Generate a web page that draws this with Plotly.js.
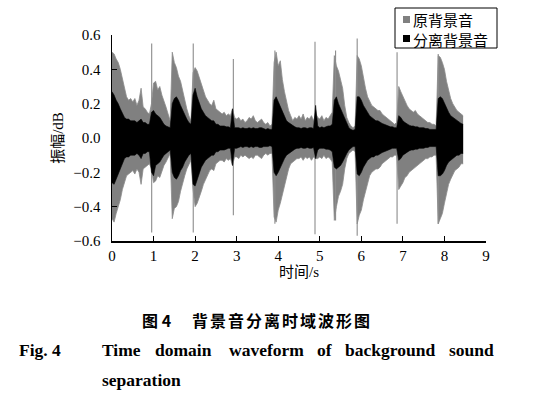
<!DOCTYPE html>
<html><head><meta charset="utf-8">
<script src="https://cdn.plot.ly/plotly-3.0.1.min.js"></script>
<style>html,body{margin:0;padding:0;background:#fff}#chart{width:555px;height:395px}</style>
</head><body><div id="chart"></div>
<script>
// ---- data ----
const sampleStart = 0;      // s
const sampleStep = 0.05;    // s, envelope sampling interval
const seriesNames = ['原背景音', '分离背景音'];

// original background sound: upper / lower envelope
const originalUpper = [
  0.50,0.49,0.46,0.44,0.40,0.34,0.28,0.24,0.22,0.23,
  0.21,0.23,0.19,0.22,0.29,0.18,0.17,0.15,0.14,0.20,
  0.32,0.33,0.28,0.30,0.25,0.22,0.18,0.14,0.10,0.50,
  0.44,0.41,0.36,0.33,0.27,0.22,0.17,0.13,0.10,0.38,
  0.41,0.39,0.35,0.31,0.27,0.24,0.22,0.20,0.19,0.22,
  0.17,0.16,0.15,0.14,0.15,0.13,0.14,0.13,0.17,0.12,
  0.11,0.12,0.10,0.11,0.09,0.10,0.12,0.11,0.13,0.10,
  0.09,0.10,0.11,0.09,0.08,0.09,0.07,0.08,0.44,0.50,
  0.42,0.45,0.34,0.27,0.21,0.16,0.13,0.10,0.12,0.11,
  0.13,0.11,0.14,0.10,0.12,0.11,0.13,0.10,0.14,0.12,
  0.11,0.13,0.10,0.12,0.11,0.13,0.15,0.48,0.42,0.39,
  0.33,0.29,0.19,0.12,0.09,0.07,0.06,0.07,0.48,0.46,
  0.42,0.35,0.29,0.24,0.21,0.19,0.18,0.17,0.16,0.16,
  0.14,0.13,0.12,0.11,0.10,0.09,0.08,0.09,0.30,0.27,
  0.24,0.21,0.19,0.17,0.16,0.15,0.16,0.14,0.13,0.12,
  0.11,0.10,0.09,0.09,0.08,0.08,0.07,0.48,0.47,0.44,
  0.40,0.33,0.28,0.23,0.20,0.18,0.16,0.15,0.14,0.13
];
const originalLower = [
  -0.47,-0.49,-0.44,-0.40,-0.36,-0.30,-0.26,-0.22,-0.21,-0.20,
  -0.19,-0.21,-0.18,-0.20,-0.27,-0.18,-0.17,-0.16,-0.15,-0.18,
  -0.26,-0.25,-0.22,-0.23,-0.19,-0.16,-0.14,-0.11,-0.09,-0.47,
  -0.41,-0.40,-0.37,-0.31,-0.26,-0.22,-0.18,-0.15,-0.13,-0.30,
  -0.40,-0.38,-0.35,-0.31,-0.27,-0.24,-0.21,-0.19,-0.18,-0.19,
  -0.15,-0.14,-0.13,-0.13,-0.14,-0.12,-0.13,-0.12,-0.16,-0.11,
  -0.11,-0.12,-0.10,-0.11,-0.10,-0.11,-0.12,-0.11,-0.12,-0.10,
  -0.10,-0.11,-0.12,-0.10,-0.09,-0.10,-0.09,-0.09,-0.46,-0.49,
  -0.42,-0.38,-0.33,-0.28,-0.22,-0.18,-0.15,-0.14,-0.13,-0.12,
  -0.12,-0.11,-0.13,-0.11,-0.12,-0.11,-0.13,-0.11,-0.12,-0.12,
  -0.11,-0.12,-0.10,-0.12,-0.11,-0.12,-0.14,-0.48,-0.40,-0.34,
  -0.31,-0.27,-0.18,-0.12,-0.09,-0.08,-0.07,-0.08,-0.50,-0.45,
  -0.42,-0.36,-0.31,-0.26,-0.22,-0.20,-0.19,-0.18,-0.18,-0.17,
  -0.15,-0.14,-0.13,-0.12,-0.11,-0.11,-0.10,-0.10,-0.30,-0.28,
  -0.26,-0.23,-0.22,-0.20,-0.19,-0.18,-0.17,-0.16,-0.15,-0.14,
  -0.13,-0.12,-0.12,-0.11,-0.11,-0.10,-0.10,-0.50,-0.47,-0.44,
  -0.38,-0.32,-0.27,-0.24,-0.21,-0.19,-0.18,-0.17,-0.15,-0.15
];
// isolated transient spikes of the original signal
const spikeTimes  = [0.955, 1.955, 2.92, 3.92, 4.885, 5.38, 5.90, 6.86, 7.85];
const spikeTop    = [0.55, 0.55, 0.46, 0.51, 0.56, 0.51, 0.58, 0.50, 0.49];
const spikeBottom = [-0.55, -0.55, -0.45, -0.50, -0.56, -0.48, -0.57, -0.50, -0.50];

// separated background sound: upper / lower envelope
const separatedUpper = [
  0.27,0.25,0.22,0.20,0.17,0.14,0.12,0.11,0.11,0.10,
  0.10,0.10,0.09,0.10,0.11,0.09,0.09,0.08,0.08,0.15,
  0.16,0.14,0.13,0.12,0.10,0.08,0.07,0.065,0.06,0.20,
  0.23,0.24,0.22,0.19,0.16,0.13,0.11,0.09,0.08,0.25,
  0.29,0.24,0.20,0.17,0.15,0.13,0.12,0.11,0.10,0.10,
  0.08,0.08,0.07,0.07,0.07,0.065,0.065,0.06,0.17,0.06,
  0.06,0.06,0.055,0.06,0.055,0.055,0.06,0.055,0.06,0.055,
  0.055,0.06,0.06,0.055,0.05,0.055,0.05,0.05,0.22,0.24,
  0.21,0.18,0.15,0.12,0.10,0.09,0.08,0.07,0.065,0.06,
  0.06,0.055,0.06,0.06,0.055,0.06,0.06,0.055,0.19,0.07,
  0.06,0.065,0.06,0.065,0.07,0.07,0.08,0.22,0.24,0.20,
  0.17,0.14,0.11,0.08,0.06,0.05,0.045,0.05,0.24,0.24,
  0.22,0.19,0.17,0.15,0.13,0.12,0.11,0.10,0.10,0.09,
  0.085,0.08,0.075,0.07,0.065,0.065,0.06,0.06,0.13,0.12,
  0.10,0.09,0.08,0.075,0.07,0.07,0.065,0.065,0.06,0.06,
  0.06,0.055,0.055,0.05,0.05,0.05,0.05,0.23,0.24,0.23,
  0.20,0.17,0.15,0.13,0.12,0.11,0.10,0.09,0.085,0.08
];
const separatedLower = [
  -0.26,-0.27,-0.24,-0.21,-0.17,-0.14,-0.12,-0.11,-0.11,-0.10,
  -0.10,-0.10,-0.09,-0.10,-0.12,-0.09,-0.09,-0.08,-0.08,-0.20,
  -0.22,-0.16,-0.15,-0.14,-0.12,-0.10,-0.09,-0.08,-0.07,-0.20,
  -0.23,-0.24,-0.22,-0.19,-0.17,-0.14,-0.12,-0.10,-0.09,-0.27,
  -0.28,-0.24,-0.20,-0.17,-0.15,-0.13,-0.12,-0.11,-0.10,-0.10,
  -0.08,-0.08,-0.07,-0.07,-0.07,-0.065,-0.06,-0.06,-0.16,-0.06,
  -0.06,-0.055,-0.05,-0.055,-0.05,-0.05,-0.055,-0.05,-0.055,-0.05,
  -0.05,-0.055,-0.055,-0.05,-0.05,-0.05,-0.045,-0.05,-0.20,-0.22,
  -0.20,-0.17,-0.14,-0.12,-0.10,-0.09,-0.08,-0.07,-0.065,-0.06,
  -0.06,-0.055,-0.06,-0.06,-0.055,-0.06,-0.06,-0.055,-0.12,-0.07,
  -0.06,-0.06,-0.06,-0.065,-0.065,-0.07,-0.08,-0.17,-0.18,-0.17,
  -0.16,-0.14,-0.11,-0.09,-0.07,-0.06,-0.05,-0.05,-0.21,-0.22,
  -0.20,-0.17,-0.15,-0.13,-0.12,-0.11,-0.11,-0.10,-0.10,-0.09,
  -0.085,-0.08,-0.075,-0.07,-0.065,-0.06,-0.06,-0.06,-0.13,-0.12,
  -0.10,-0.09,-0.08,-0.075,-0.07,-0.07,-0.065,-0.065,-0.06,-0.06,
  -0.06,-0.055,-0.055,-0.05,-0.05,-0.05,-0.05,-0.22,-0.22,-0.21,
  -0.19,-0.16,-0.14,-0.13,-0.12,-0.11,-0.10,-0.10,-0.09,-0.09
];

const xTickVals = [0,1,2,3,4,5,6,7,8,9];
const yTickVals = [-0.6,-0.4,-0.2,0.0,0.2,0.4,0.6];
const xTitle = '时间/s';
const yTitle = '振幅/dB';
const captionCn = ['图', '4', '背景音分离时域波形图'];
const captionEnLabel = 'Fig. 4';
const captionEnWords = ['Time','domain','waveform','of','background','sound'];
const captionEnLine2 = 'separation';

// ---- styles / geometry ----
const GRAY = '#808080', BLACK = '#000000';
const SERIF = '"Liberation Serif", "Times New Roman", "Noto Sans CJK SC", serif';
const CJK = '"Noto Sans CJK SC", "Liberation Serif", sans-serif';
const PL = 112, PR = 486, PT = 35, PB = 241;
const fx = px => (px - PL) / (PR - PL);
const fy = py => (PB - py) / (PB - PT);

const spikeX = [], spikeY = [];
spikeTimes.forEach((t, i) => { spikeX.push(t, t, null); spikeY.push(spikeTop[i], spikeBottom[i], null); });

const traces = [
  {type:'scatter', mode:'lines', x0:sampleStart, dx:sampleStep, y:originalUpper,
   line:{color:'#8c8c8c', width:0.8}, showlegend:false, hoverinfo:'skip', name:seriesNames[0]},
  {type:'scatter', mode:'lines', x0:sampleStart, dx:sampleStep, y:originalLower,
   fill:'tonexty', fillcolor:GRAY, line:{color:'#8c8c8c', width:0.8}, showlegend:false, hoverinfo:'skip', name:seriesNames[0]},
  {type:'scatter', mode:'lines', x:spikeX, y:spikeY, line:{color:'#8c8c8c', width:1.1},
   showlegend:false, hoverinfo:'skip', name:seriesNames[0]},
  {type:'scatter', mode:'lines', x0:sampleStart, dx:sampleStep, y:separatedUpper,
   line:{color:BLACK, width:0.6}, showlegend:false, hoverinfo:'skip', name:seriesNames[1]},
  {type:'scatter', mode:'lines', x0:sampleStart, dx:sampleStep, y:separatedLower,
   fill:'tonexty', fillcolor:BLACK, line:{color:BLACK, width:0.6}, showlegend:false, hoverinfo:'skip', name:seriesNames[1]}
];

const axisCommon = {
  showgrid:false, zeroline:false, showline:true, linecolor:'#000', linewidth:1.5,
  ticks:'inside', ticklen:5, tickwidth:1.2, tickcolor:'#000', mirror:false,
  tickfont:{family:SERIF, size:15, color:'#000'}
};

const annotations = [];
function ann(text, px, py, xanchor, font) {
  annotations.push({text, xref:'paper', yref:'paper', x:fx(px), y:fy(py), xanchor, yanchor:'middle',
    showarrow:false, font, align:'left'});
}
// legend texts (one block, two rows)
ann(seriesNames[0] + '<br>' + seriesNames[1], 411, 29, 'left', {family:CJK, size:15, color:'#000'});
// captions
ann(captionCn[0] + ' <b>' + captionCn[1] + '</b>', 140, 320, 'left', {family:CJK, size:16, color:'#000', weight:'bold'});
ann('<span style="letter-spacing:2px">' + captionCn[2] + '</span>', 190, 320, 'left', {family:CJK, size:16, color:'#000', weight:'bold'});
ann('<b>' + captionEnLabel + '</b>', 17, 349.5, 'left', {family:SERIF, size:17.5, color:'#000'});
const wordX = [100, 153, 227, 315, 343, 447];
captionEnWords.forEach((w, i) => ann('<b>' + w + '</b>', wordX[i], 349.5, 'left', {family:SERIF, size:17.5, color:'#000'}));
ann('<b>' + captionEnLine2 + '</b>', 100, 379.5, 'left', {family:SERIF, size:17.5, color:'#000'});

const shapes = [
  {type:'rect', xref:'paper', yref:'paper', x0:fx(395), x1:fx(497), y0:fy(48), y1:fy(8),
   line:{color:'#000', width:1}, fillcolor:'#fff', layer:'above'},
  {type:'rect', xref:'paper', yref:'paper', x0:fx(403), x1:fx(410), y0:fy(23), y1:fy(16),
   line:{width:0}, fillcolor:GRAY, layer:'above'},
  {type:'rect', xref:'paper', yref:'paper', x0:fx(403), x1:fx(410), y0:fy(42), y1:fy(35),
   line:{width:0}, fillcolor:BLACK, layer:'above'}
];

const layout = {
  width:555, height:395,
  margin:{l:PL, r:555-PR, t:PT, b:395-PB, pad:0},
  paper_bgcolor:'#fff', plot_bgcolor:'#fff',
  showlegend:false,
  xaxis: Object.assign({}, axisCommon, {range:[0,9], tickvals:xTickVals, ticklabelstandoff:0,
    title:{text:xTitle, font:{family:SERIF, size:15, color:'#000'}, standoff:0}}),
  yaxis: Object.assign({}, axisCommon, {range:[-0.6,0.6], tickvals:yTickVals, tickformat:'.1f', ticklabelstandoff:7,
    title:{text:yTitle, font:{family:SERIF, size:15, color:'#000'}, standoff:6}}),
  annotations, shapes
};

Plotly.newPlot('chart', traces, layout, {staticPlot:true, displayModeBar:false});
</script></body></html>
